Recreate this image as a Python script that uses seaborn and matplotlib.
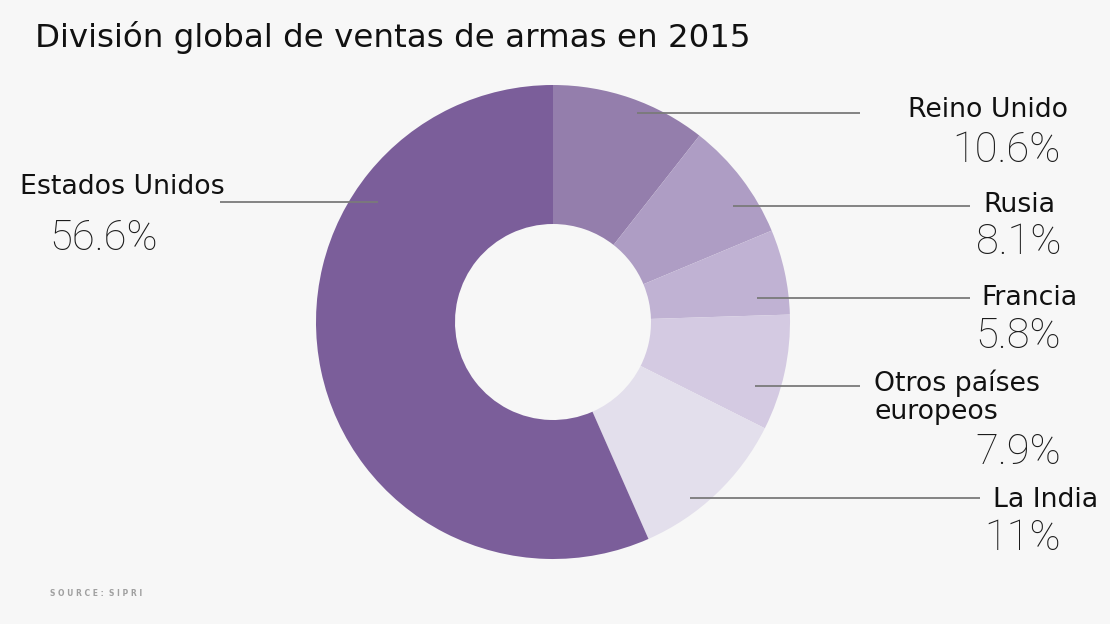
import matplotlib
matplotlib.use("Agg")
import matplotlib.pyplot as plt
import seaborn as sns

# ---- data ----
countries = ["Reino Unido", "Rusia", "Francia", "Otros países\neuropeos", "La India", "Estados Unidos"]
shares = [10.6, 8.1, 5.8, 7.9, 11.0, 56.6]
share_labels = ["10.6%", "8.1%", "5.8%", "7.9%", "11%", "56.6%"]
colors = ["#947EAC", "#AE9DC4", "#C0B2D3", "#D4CAE2", "#E3DFEC", "#7B5E9A"]
title = "División global de ventas de armas en 2015"
source = "SOURCE: SIPRI"

sns.set_theme(style="white")
plt.rcParams["font.family"] = ["DejaVu Sans"]

W, H = 1110, 624
bg = "#F7F7F7"
fig = plt.figure(figsize=(W / 100, H / 100), dpi=100, facecolor=bg)
ax = fig.add_axes([0, 0, 1, 1])
ax.set_facecolor(bg)

cx, cy = 553, H - 322
R = 237
ax.pie(shares, colors=colors, startangle=90, counterclock=False,
       center=(cx, cy), radius=R, frame=True,
       wedgeprops=dict(width=139, linewidth=0))
ax.set_xlim(0, W)
ax.set_ylim(0, H)
ax.set_aspect("equal")
ax.axis("off")

def y(v):
    return H - v

# leader lines (pixel positions in image coordinates)
lines = [
    (637, 860, 113),
    (733, 970, 206),
    (757, 970, 298),
    (755, 860, 386),
    (690, 980, 498),
    (220, 378, 202),
]
for x0, x1, yy in lines:
    ax.plot([x0, x1], [y(yy), y(yy)], color="#7a7a7a", lw=1.3, solid_capstyle="butt")

name_pos = [
    (1068, 110, "right"),
    (1055, 205, "right"),
    (1077, 298, "right"),
    (874, 397, "left"),
    (1098, 500, "right"),
    (20, 187, "left"),
]
pct_pos = [
    (1061, 151, "right"),
    (1061, 242, "right"),
    (1061, 337, "right"),
    (1061, 452, "right"),
    (1061, 538, "right"),
    (49, 238, "left"),
]
for name, pct, (nx, ny, nha), (px, py, pha) in zip(countries, share_labels, name_pos, pct_pos):
    ax.text(nx, y(ny), name, ha=nha, va="center", fontsize=19.3, color="#111111",
            linespacing=1.1)
    ax.text(px, y(py), pct, ha=pha, va="center", fontsize=30, color="#1c1c1c",
            family=["Roboto", "DejaVu Sans"], fontweight="light")

ax.text(35, y(38), title, ha="left", va="center", fontsize=23.4, color="#111111")
ax.text(50, y(594), "S O U R C E :  S I P R I",
        ha="left", va="center", fontsize=5.5, color="#a0a0a0", fontweight="bold")

fig.savefig("out.png", dpi=100, facecolor=bg)
